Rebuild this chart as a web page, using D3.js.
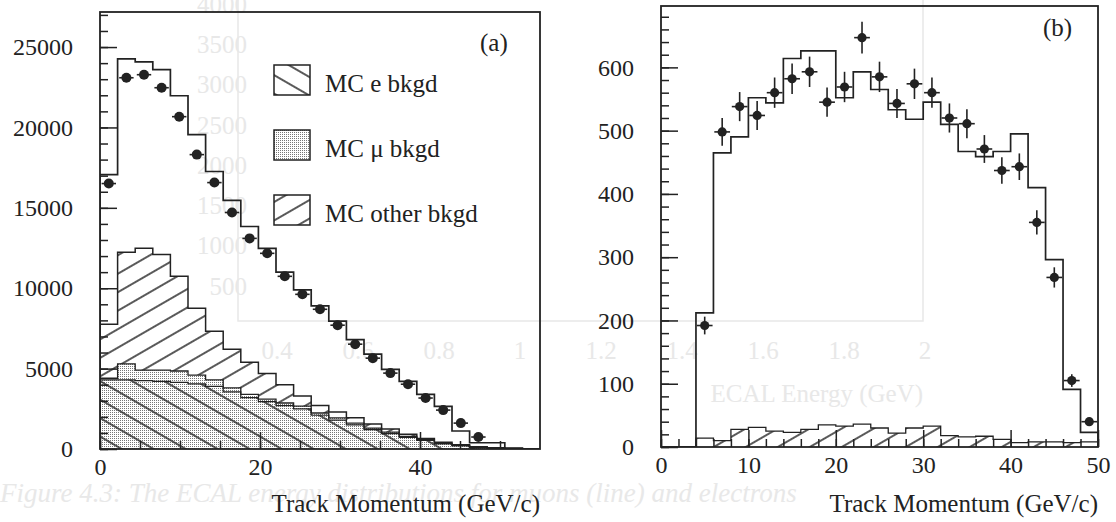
<!doctype html>
<html lang="en">
<head>
<meta charset="utf-8">
<title>Track Momentum</title>
<script src="https://d3js.org/d3.v7.min.js"></script>
<style>
  body { margin: 0; background: #fff; }
  svg { display: block; }
  svg text { font-family: "Liberation Serif", "DejaVu Serif", serif; }
</style>
</head>
<body>
<svg id="chart" width="1116" height="522"></svg>
<script>

// ---------- panel (a): 25 bins of 2.2 GeV/c between 0 and 55
var nBinsA = 25, binWA = 2.2;
var dataA = [16510, 23090, 23280, 22470, 20670, 18310, 16570, 14710, 13100, 12170, 10740,
             9620, 8690, 7700, 6520, 5650, 4720, 4030, 3170, 2420, 1610, 745];
var totalA = [17070, 24270, 24080, 23590, 21970, 19550, 17260, 15460, 13840, 12480, 11000,
              9900, 8900, 7950, 6800, 5900, 4950, 4200, 3400, 2650, 1120, 390, 390, 60, 0];
// stacked backgrounds, given as cumulative heights
var otherTopA = [7760, 12230, 12480, 12100, 10740, 8750, 7320, 6200, 5400, 4700, 4000,
                 3300, 2700, 2300, 1950, 1550, 1250, 920, 650, 420, 260, 140, 80, 30, 0];
var muTopA = [4400, 5290, 4900, 4900, 4850, 4600, 4300, 3800, 3400, 3100, 2860,
              2670, 2240, 1930, 1610, 1300, 1050, 780, 580, 350, 220, 110, 60, 20, 0];
var eTopA = [4300, 4300, 4250, 4200, 4150, 4050, 3900, 3550, 3200, 2950, 2700,
             2500, 2100, 1800, 1500, 1200, 960, 720, 530, 320, 190, 90, 45, 15, 0];
var legendLabels = ["MC e bkgd", "MC \u03bc bkgd", "MC other bkgd"];

// ---------- panel (b): 25 bins of 2 GeV/c between 0 and 50
var nBinsB = 25, binWB = 2;
var dataB = [null, null, 192, 498, 538, 524, 560, 582, 593, 545, 569, 647, 585, 543,
             574, 560, 520, 511, 471, 437, 443, 355, 268, 105, 40];
var errB = [null, null, 14, 22, 23, 23, 24, 24, 24, 23, 24, 25, 24, 23,
            24, 24, 23, 23, 22, 21, 21, 19, 16, 10, 6];
var totalB = [0, 0, 212, 465, 490, 552, 544, 614, 626, 626, 552, 593, 565, 533,
              518, 545, 510, 467, 459, 467, 495, 410, 296, 91, 23];
var otherB = [0, 0, 14, 10, 28, 31, 25, 23, 28, 35, 33, 36, 30, 22,
              30, 33, 18, 16, 17, 12, 7, 8, 8, 7, 8];

// tick labels
var xTicksA = [0, 20, 40], yTicksA = [0, 5000, 10000, 15000, 20000, 25000];
var xTicksB = [0, 10, 20, 30, 40, 50], yTicksB = [0, 100, 200, 300, 400, 500, 600];
var xTitle = "Track Momentum (GeV/c)";

// bleed-through from the other side of the page
var ghostY = ["4000", "3500", "3000", "2500", "2000", "1500", "1000", "500"];
var ghostX = ["0.4", "0.6", "0.8", "1", "1.2", "1.4", "1.6", "1.8", "2"];

var ink = "#222";
var ghostInk = "#e8e8e8";
var svg = d3.select("#chart");

// ---------- ghost layer
var gg = svg.append("g").attr("fill", ghostInk).attr("font-size", 25);
var gy = d3.scaleLinear().domain([0, 7]).range([4, 286]);
gg.selectAll("text.gy").data(ghostY).join("text")
  .attr("x", 247).attr("y", (d, i) => gy(i)).attr("dy", "0.35em")
  .attr("text-anchor", "end").text(d => d);
var gx = d3.scaleLinear().domain([0.4, 2]).range([277, 925]);
gg.selectAll("text.gx").data(ghostX).join("text")
  .attr("x", d => gx(+d)).attr("y", 359).attr("text-anchor", "middle").text(d => d);
gg.append("text").attr("x", 923).attr("y", 402).attr("text-anchor", "end").text("ECAL Energy (GeV)");
gg.append("text").attr("x", 0).attr("y", 502).attr("font-style", "italic").attr("font-size", 27)
  .text("Figure 4.3: The ECAL energy distributions for muons (line) and electrons");
gg.append("path").attr("fill", "none").attr("stroke", ghostInk).attr("stroke-width", 1.5)
  .attr("d", "M238,0V321H923V0");

// ---------- patterns
var defs = svg.append("defs");
function hatch(id, angle, gap) {
  var p = defs.append("pattern").attr("id", id)
    .attr("patternUnits", "userSpaceOnUse")
    .attr("width", 40).attr("height", gap)
    .attr("patternTransform", "rotate(" + angle + ")");
  p.append("line").attr("x1", 0).attr("x2", 40)
    .attr("y1", gap / 2).attr("y2", gap / 2)
    .attr("stroke", ink).attr("stroke-width", 1.4);
}
hatch("fwd", -30, 16);
hatch("bck", 30, 16);
var st = defs.append("pattern").attr("id", "stip")
  .attr("patternUnits", "userSpaceOnUse").attr("width", 2).attr("height", 2);
st.append("rect").attr("width", 2).attr("height", 2).attr("fill", "#fff");
st.append("rect").attr("width", 1).attr("height", 1).attr("fill", "#777");

// ---------- helpers
function steps(vals, w) {
  var pts = [{x: 0, v: 0}];
  vals.forEach((v, i) => pts.push({x: i * w, v: v}));
  pts.push({x: vals.length * w, v: vals[vals.length - 1]});
  pts.push({x: vals.length * w, v: 0});
  return pts;
}

function styleAxis(s) {
  s.attr("font-family", null).attr("font-size", null);
  s.select(".domain").remove();
  s.selectAll("line").attr("stroke", ink).attr("stroke-width", 1.5);
  s.selectAll("text").attr("fill", ink)
    .style("font-size", "24px")
    .style("font-family", "'Liberation Serif', 'DejaVu Serif', serif");
}

function panel(box, xDom, yDom, xTicks, xMinor, yTicks, yMinor, id) {
  var x = d3.scaleLinear().domain(xDom).range([box.left, box.right]);
  var y = d3.scaleLinear().domain(yDom).range([box.bottom, box.top]);
  var g = svg.append("g");
  defs.append("clipPath").attr("id", id)
    .append("rect").attr("x", box.left).attr("y", box.top)
    .attr("width", box.right - box.left).attr("height", box.bottom - box.top);
  var plot = g.append("g").attr("clip-path", "url(#" + id + ")");

  var axL = function (vals, len, lab) {
    var a = d3.axisLeft(y).tickValues(vals).tickSize(-len).tickPadding(27)
      .tickFormat(lab ? d3.format("d") : "");
    styleAxis(g.append("g").attr("transform", "translate(" + box.left + ",0)").call(a));
  };
  var axB = function (vals, len, lab) {
    var a = d3.axisBottom(x).tickValues(vals).tickSize(-len).tickPadding(9)
      .tickFormat(lab ? d3.format("d") : "");
    styleAxis(g.append("g").attr("transform", "translate(0," + box.bottom + ")").call(a));
  };
  axL(yMinor, 8, false);
  axL(yTicks, 17, true);
  axB(xMinor, 8, false);
  axB(xTicks, 17, true);

  g.append("rect").attr("x", box.left).attr("y", box.top)
    .attr("width", box.right - box.left).attr("height", box.bottom - box.top)
    .attr("fill", "none").attr("stroke", ink).attr("stroke-width", 1.8);

  g.append("text").attr("x", box.right).attr("y", 512)
    .attr("text-anchor", "end").attr("font-size", 25).attr("fill", ink).text(xTitle);

  return {x: x, y: y, g: g, plot: plot};
}

function histArea(p, vals, w, fill) {
  var area = d3.area().curve(d3.curveStepAfter)
    .x(d => p.x(d.x)).y0(p.y(0)).y1(d => p.y(d.v));
  p.plot.append("path").datum(steps(vals, w))
    .attr("d", area).attr("fill", fill).attr("stroke", "none");
}
function histLine(p, vals, w, sw) {
  var line = d3.line().curve(d3.curveStepAfter).x(d => p.x(d.x)).y(d => p.y(d.v));
  p.plot.append("path").datum(steps(vals, w))
    .attr("d", line).attr("fill", "none").attr("stroke", ink).attr("stroke-width", sw);
}
function points(p, vals, errs, w, r) {
  var pts = vals.map((v, i) => ({c: (i + 0.5) * w, v: v, e: errs ? errs[i] : 0}))
    .filter(d => d.v !== null);
  var s = p.g.selectAll(null).data(pts).join("g");
  s.append("line").attr("x1", d => p.x(d.c - 0.9)).attr("x2", d => p.x(d.c + 0.9))
    .attr("y1", d => p.y(d.v)).attr("y2", d => p.y(d.v))
    .attr("stroke", ink).attr("stroke-width", 1.6);
  s.filter(d => d.e > 0).append("line")
    .attr("x1", d => p.x(d.c)).attr("x2", d => p.x(d.c))
    .attr("y1", d => p.y(d.v - d.e)).attr("y2", d => p.y(d.v + d.e))
    .attr("stroke", ink).attr("stroke-width", 1.6);
  s.append("circle").attr("cx", d => p.x(d.c)).attr("cy", d => p.y(d.v))
    .attr("r", r).attr("fill", ink);
}

// ---------- panel (a)
var pa = panel({left: 100, right: 540, top: 12, bottom: 449}, [0, 55], [0, 27180],
  xTicksA, d3.range(0, 55, 5), yTicksA, d3.range(0, 27001, 1000), "clipA");
histArea(pa, otherTopA, binWA, "url(#fwd)");
histArea(pa, muTopA, binWA, "url(#stip)");
histArea(pa, eTopA, binWA, "url(#bck)");
histLine(pa, otherTopA, binWA, 1.5);
histLine(pa, muTopA, binWA, 1.3);
histLine(pa, eTopA, binWA, 1.2);
histLine(pa, totalA, binWA, 1.7);
points(pa, dataA, null, binWA, 5);

pa.g.append("text").attr("x", 480).attr("y", 51).attr("font-size", 25).attr("fill", ink).text("(a)");

var legFills = ["url(#bck)", "url(#stip)", "url(#fwd)"];
var legY = d3.scalePoint().domain(legendLabels).range([65, 195]);
var leg = pa.g.selectAll("g.leg").data(legendLabels).join("g").attr("class", "leg");
leg.append("rect").attr("x", 274).attr("y", d => legY(d)).attr("width", 36).attr("height", 30)
  .attr("fill", (d, i) => legFills[i]).attr("stroke", ink).attr("stroke-width", 1.5);
leg.append("text").attr("x", 325).attr("y", d => legY(d) + 27)
  .attr("font-size", 25).attr("fill", ink).text(d => d);

// ---------- panel (b)
var pb = panel({left: 661, right: 1098, top: 6, bottom: 447}, [0, 50], [0, 697],
  xTicksB, d3.range(0, 51, 2), yTicksB, d3.range(0, 697, 20), "clipB");
histArea(pb, otherB, binWB, "url(#fwd)");
histLine(pb, otherB, binWB, 1.3);
histLine(pb, totalB, binWB, 1.7);
points(pb, dataB, errB, binWB, 4.6);

pb.g.append("text").attr("x", 1043).attr("y", 36).attr("font-size", 25).attr("fill", ink).text("(b)");

</script>
</body>
</html>
